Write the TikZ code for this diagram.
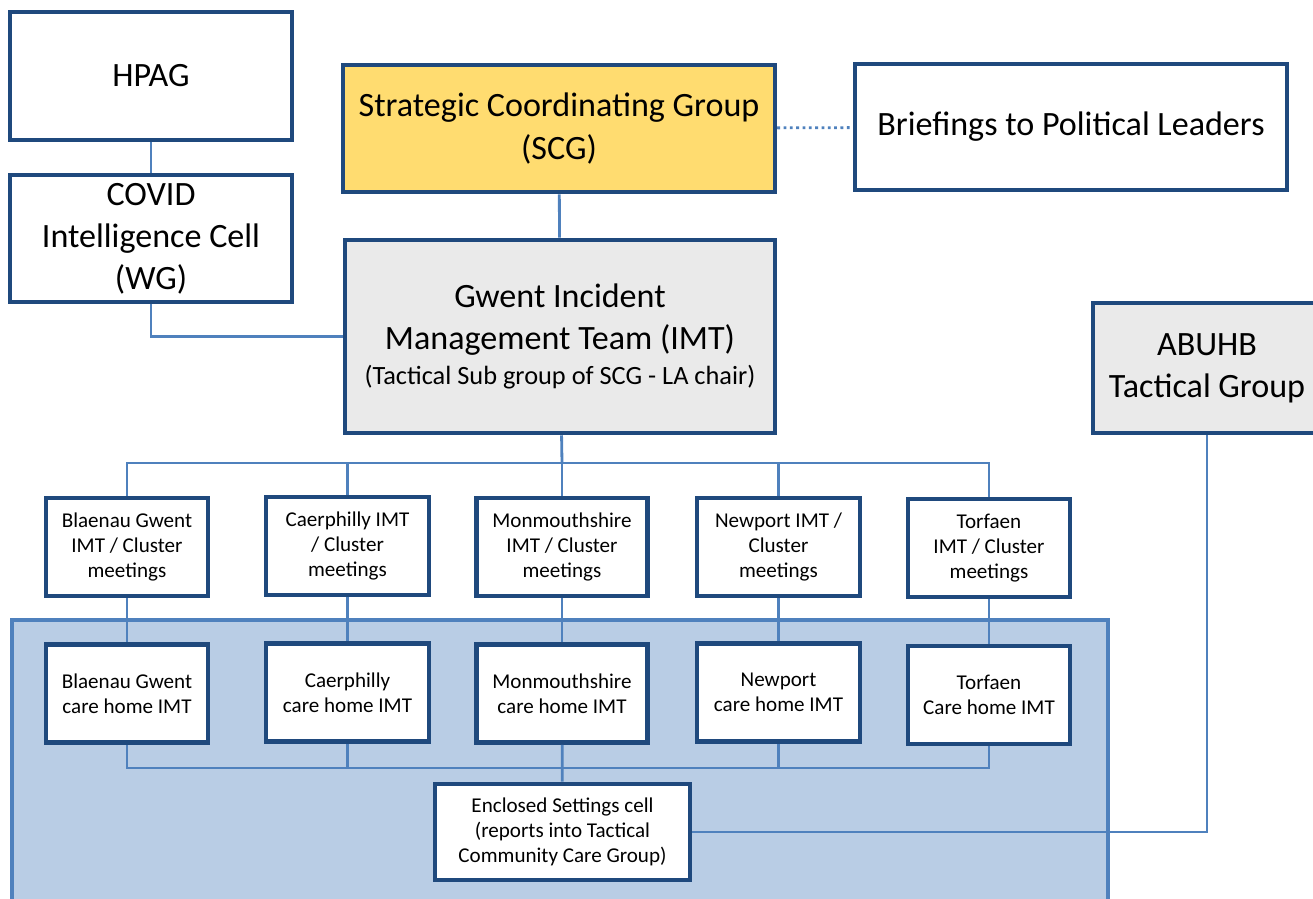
\documentclass[tikz,border=0pt]{standalone}
\usepackage{fontspec}
\setmainfont{Carlito}
\definecolor{boxline}{HTML}{1F497D}
\definecolor{linkline}{HTML}{4F81BD}
\definecolor{cellfill}{HTML}{B9CDE5}
\definecolor{scgfill}{HTML}{FFDC70}
\definecolor{greyfill}{HTML}{EAEAEA}
\tikzset{
  box/.style={draw=boxline, line width=2.6pt, fill=white, align=center, inner sep=2pt},
  bigbox/.style={box, font=\fontsize{19.4}{24}\selectfont},
  smallbox/.style={box, font=\fontsize{12}{14.2}\selectfont, minimum height=1.96cm},
  link/.style={draw=linkline, line width=1.6pt},
}
\begin{document}
\begin{tikzpicture}[x=0.02cm, y=-0.02cm]
    \useasboundingbox (0,0) rectangle (1313,899);
    % enclosed settings area
    \draw[draw=linkline, fill=cellfill, line width=2.6pt] (12,620) rectangle (1108,920);

    \node[bigbox, minimum width=5.64cm, minimum height=2.56cm] (hpag) at (151,76) {HPAG};
    \node[bigbox, minimum width=5.64cm, minimum height=2.54cm] (covid) at (151,238.5) {COVID\\Intelligence Cell\\(WG)};
    \node[bigbox, fill=scgfill, minimum width=8.64cm, minimum height=2.54cm] (scg) at (559,128.5) {Strategic Coordinating Group\\(SCG)};
    \node[bigbox, minimum width=8.64cm, minimum height=2.52cm] (brief) at (1071,127) {Briefings to Political Leaders};
    \node[bigbox, fill=greyfill, minimum width=8.6cm, minimum height=3.86cm] (imt) at (560,336.5)
        {Gwent Incident\\Management Team (IMT)\\[-4pt]{\fontsize{15}{16}\selectfont (Tactical Sub group of SCG - LA chair)}};
    \node[bigbox, fill=greyfill, minimum width=4.56cm, minimum height=2.6cm] (abuhb) at (1207,368) {ABUHB\\Tactical Group};

    % local IMTs
    \node[smallbox, minimum width=3.24cm] (bgimt) at (127,547) {Blaenau Gwent\\IMT / Cluster\\meetings};
    \node[smallbox, minimum width=3.26cm] (caimt) at (347.5,546) {Caerphilly IMT\\/ Cluster\\meetings};
    \node[smallbox, minimum width=3.42cm] (moimt) at (562,547) {Monmouthshire\\IMT / Cluster\\meetings};
    \node[smallbox, minimum width=3.26cm] (neimt) at (778.5,547) {Newport IMT /\\Cluster\\meetings};
    \node[smallbox, minimum width=3.24cm] (toimt) at (989,548) {Torfaen\\IMT / Cluster\\meetings};

    % care home IMTs
    \node[smallbox, minimum width=3.24cm] (bgcare) at (127,693.5) {Blaenau Gwent\\care home IMT};
    \node[smallbox, minimum width=3.26cm] (cacare) at (347.5,692.5) {Caerphilly\\care home IMT};
    \node[smallbox, minimum width=3.42cm] (mocare) at (562,693.5) {Monmouthshire\\care home IMT};
    \node[smallbox, minimum width=3.26cm] (necare) at (778.5,692.5) {Newport\\care home IMT};
    \node[smallbox, minimum width=3.24cm] (tocare) at (989,695) {Torfaen\\Care home IMT};

    \node[smallbox, minimum width=5.1cm, minimum height=1.92cm] (encl) at (562.5,832)
        {Enclosed Settings cell\\(reports into Tactical\\Community Care Group)};

    \coordinate (split) at (562,463);
    \coordinate (join) at (562,768);

    \draw[link] (hpag) -- (covid);
    \draw[link] (covid) |- (imt);
    \draw[link] (scg) -- (imt);
    \draw[link, dotted] (scg) -- (brief);
    \draw[link] (imt) -- (split);
    \foreach \n in {bgimt,caimt,moimt,neimt,toimt}
        \draw[link] (split) -| (\n);
    \draw[link] (bgimt) -- (bgcare);
    \draw[link] (caimt) -- (cacare);
    \draw[link] (moimt) -- (mocare);
    \draw[link] (neimt) -- (necare);
    \draw[link] (toimt) -- (tocare);
    \foreach \n in {bgcare,cacare,necare,tocare}
        \draw[link] (\n) |- (join);
    \draw[link] (mocare) -- (encl);
    \draw[link] (encl) -| (abuhb);
\end{tikzpicture}
\end{document}
